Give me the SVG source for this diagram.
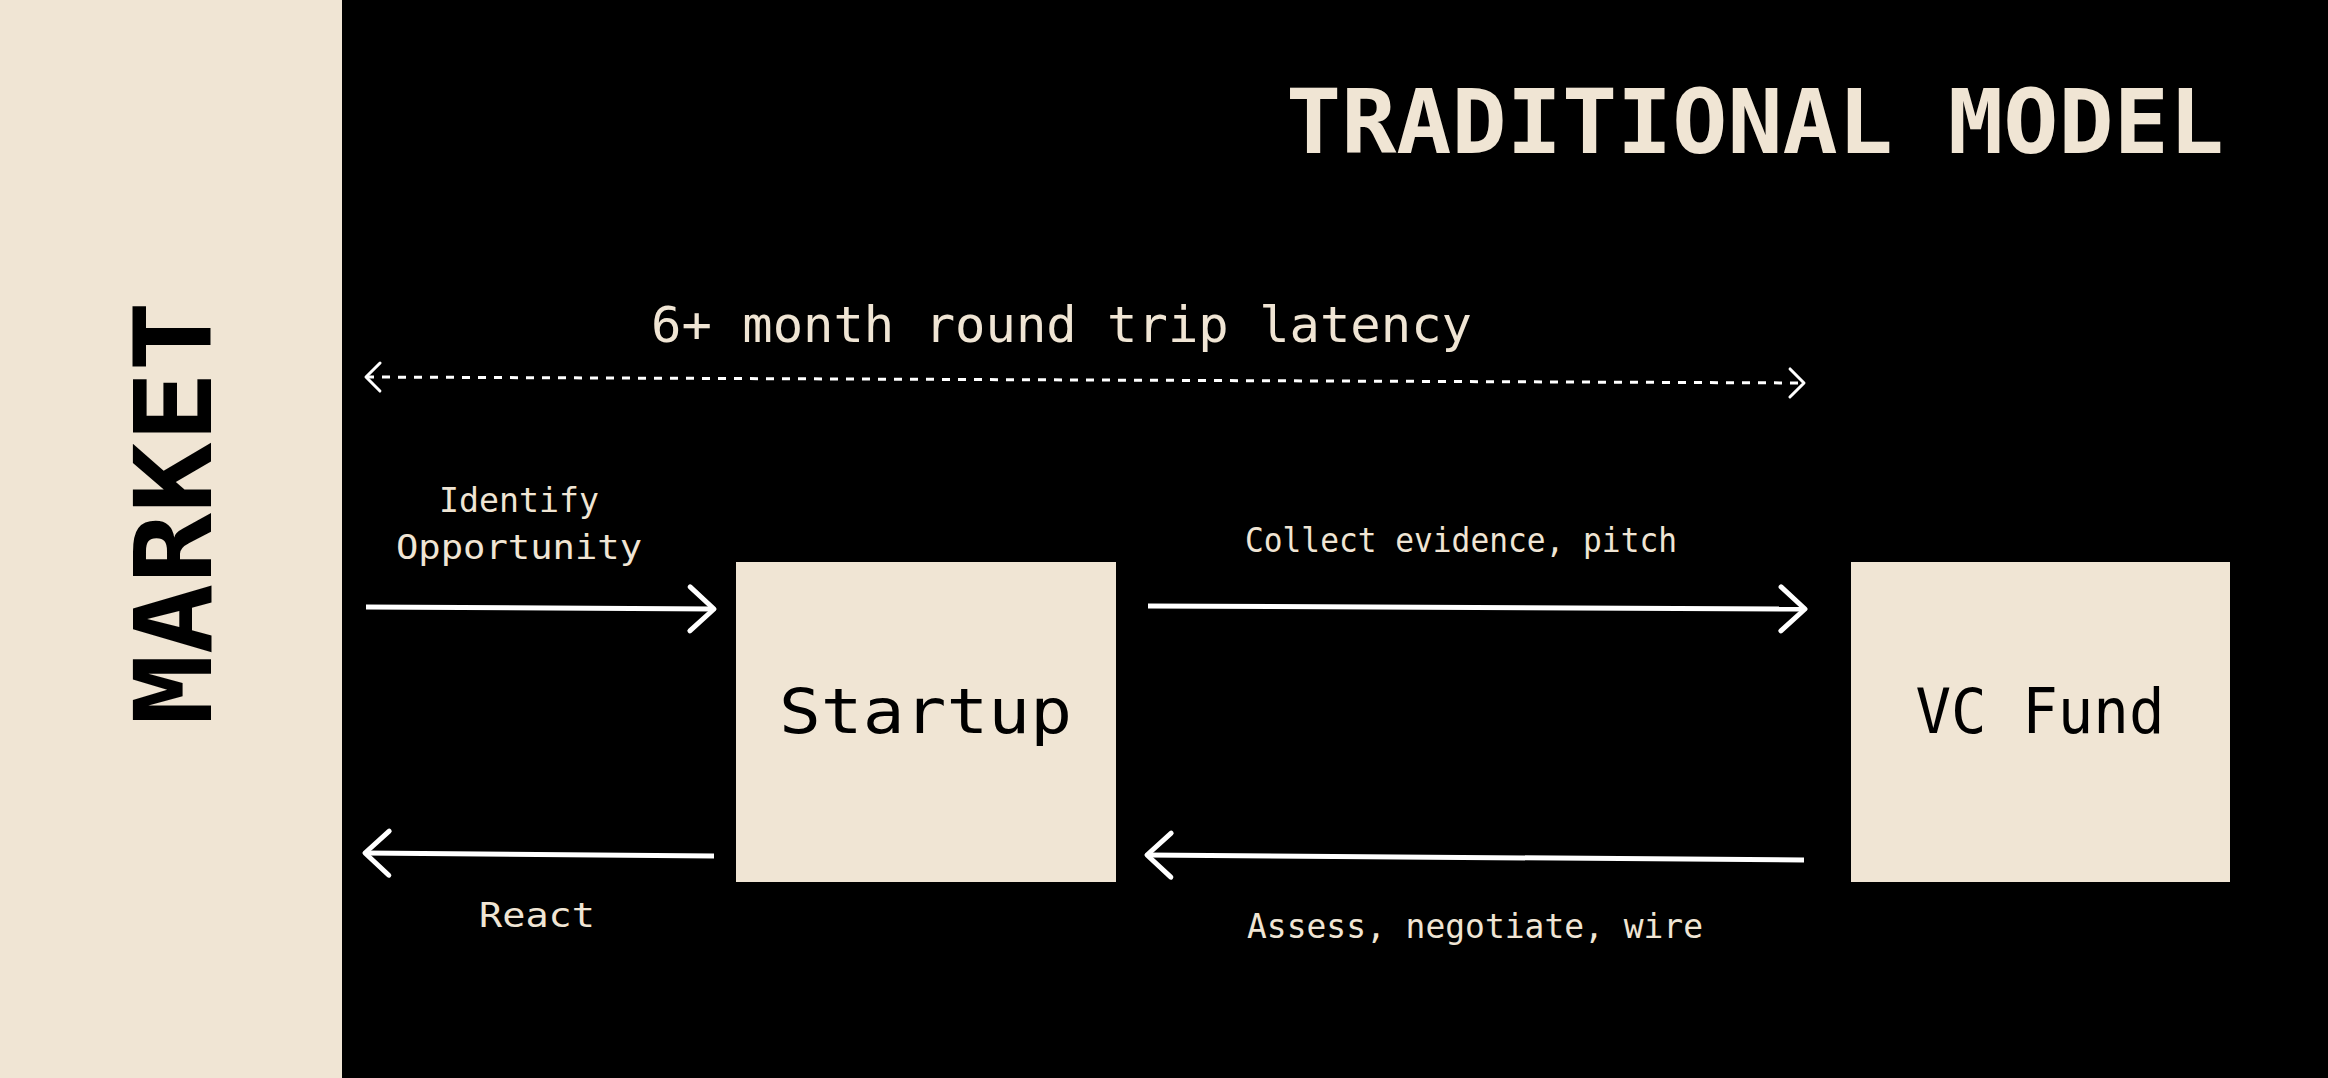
<svg xmlns="http://www.w3.org/2000/svg" width="2328" height="1078" viewBox="0 0 2328 1078">
  <style>
    .bg { fill: #000000; }
    .panel { fill: #F0E5D4; }
    .box { fill: #F0E5D4; }
    .t { font-family: "DejaVu Sans Mono", "Liberation Mono", monospace; fill: #F0E5D4; text-anchor: middle; }
    .dark { fill: #000000; }
    .lbl { font-size: 33px; }
    .node { font-size: 62px; }
    .arrow { fill: none; stroke: #FFFFFF; stroke-width: 5; stroke-linecap: butt; }
    .dotted { fill: none; stroke: #FFFFFF; stroke-width: 3; stroke-dasharray: 8 8; }
  </style>
  <defs>
    <marker id="head" markerUnits="userSpaceOnUse" viewBox="-30 -26 36 52" refX="0" refY="0" markerWidth="36" markerHeight="52" orient="auto">
      <path d="M-24,-22 L0,0 L-24,22" fill="none" stroke="#FFFFFF" stroke-width="5" stroke-linecap="round" stroke-linejoin="round"/>
    </marker>
    <marker id="headSmall" markerUnits="userSpaceOnUse" viewBox="-20 -18 24 36" refX="0" refY="0" markerWidth="24" markerHeight="36" orient="auto-start-reverse">
      <path d="M-14,-14 L0,0 L-14,14" fill="none" stroke="#FFFFFF" stroke-width="3" stroke-linecap="round" stroke-linejoin="round"/>
    </marker>
  </defs>

  <rect class="bg" x="0" y="0" width="2328" height="1078"/>

  <g id="market">
    <rect class="panel" x="0" y="0" width="342" height="1078"/>
    <text class="t dark" transform="translate(211,513) rotate(-90)" x="0" y="0" font-size="107" font-weight="bold" textLength="424" lengthAdjust="spacingAndGlyphs">MARKET</text>
  </g>

  <g id="title">
    <text class="t" x="1755" y="153" font-size="89" font-weight="bold" textLength="938" lengthAdjust="spacingAndGlyphs">TRADITIONAL MODEL</text>
  </g>

  <g id="startup">
    <rect class="box" x="736" y="562" width="380" height="320"/>
    <text class="t dark node" x="925.5" y="733" textLength="293" lengthAdjust="spacingAndGlyphs">Startup</text>
  </g>

  <g id="vcfund">
    <rect class="box" x="1851" y="562" width="379" height="320"/>
    <text class="t dark node" x="2040" y="733" textLength="249" lengthAdjust="spacingAndGlyphs">VC Fund</text>
  </g>

  <g id="connectors">
    <line class="dotted" x1="366" y1="377" x2="1804" y2="383" marker-start="url(#headSmall)" marker-end="url(#headSmall)"/>
    <line class="arrow" x1="366" y1="607" x2="714" y2="609" marker-end="url(#head)"/>
    <line class="arrow" x1="1148" y1="606" x2="1805" y2="609" marker-end="url(#head)"/>
    <line class="arrow" x1="1804" y1="860" x2="1147" y2="855" marker-end="url(#head)"/>
    <line class="arrow" x1="714" y1="856" x2="365" y2="853" marker-end="url(#head)"/>
  </g>

  <g id="labels">
    <text class="t" x="1061.5" y="342" font-size="50" textLength="821" lengthAdjust="spacingAndGlyphs">6+ month round trip latency</text>
    <text class="t lbl" x="519" y="512" textLength="160" lengthAdjust="spacingAndGlyphs">Identify</text>
    <text class="t lbl" x="519" y="559" textLength="246" lengthAdjust="spacingAndGlyphs">Opportunity</text>
    <text class="t lbl" x="1461" y="552" textLength="432" lengthAdjust="spacingAndGlyphs">Collect evidence, pitch</text>
    <text class="t lbl" x="537" y="927" textLength="116" lengthAdjust="spacingAndGlyphs">React</text>
    <text class="t lbl" x="1475" y="938" textLength="456" lengthAdjust="spacingAndGlyphs">Assess, negotiate, wire</text>
  </g>
</svg>
